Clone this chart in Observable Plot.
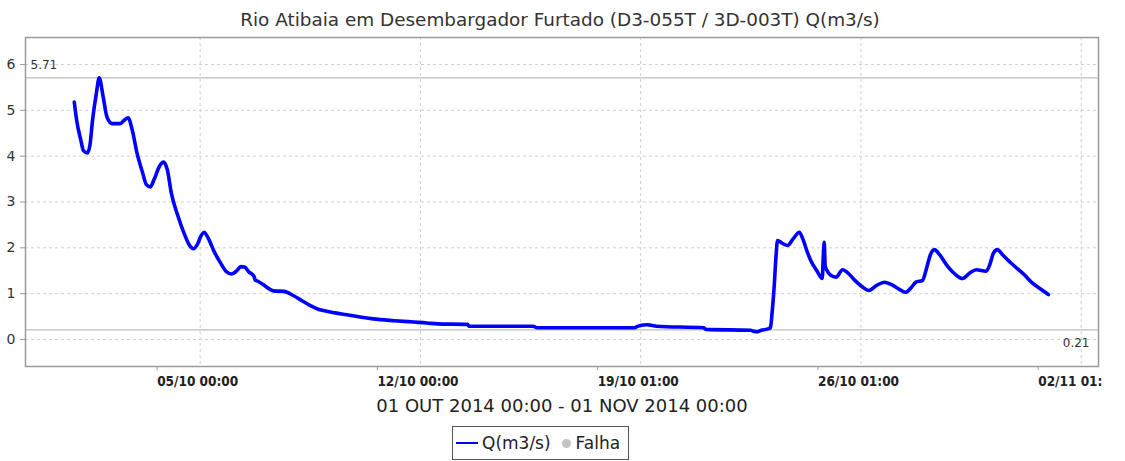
<!DOCTYPE html>
<html>
<head>
<meta charset="utf-8">
<script src="https://cdn.jsdelivr.net/npm/d3@7"></script>
<script src="https://cdn.jsdelivr.net/npm/@observablehq/plot@0.6"></script>
<style>
  body { margin: 0; background: #fff; font-family: "DejaVu Sans", sans-serif; }
  #title { height: 30px; width: 1120px; text-align: center; font-size: 18.4px; color: #333; line-height: 40px; box-sizing: border-box; white-space: nowrap; }
  #legend { position: absolute; left: 452px; top: 426px; width: 177px; height: 34px; border: 1px solid #555; box-sizing: border-box; display: flex; align-items: center; font-size: 17px; color: #222; white-space: nowrap; }
  #legend .ln { display: inline-block; width: 22px; height: 2px; background: #0000ff; margin-left: 3px; margin-right: 4px; }
  #legend .dot { display: inline-block; width: 9px; height: 9px; border-radius: 50%; background: #c4c4c4; margin-left: 11px; margin-right: 5px; }
</style>
</head>
<body>
<div id="title">Rio Atibaia em Desembargador Furtado (D3-055T / 3D-003T) Q(m3/s)</div>
<div id="chart"></div>
<div id="legend"><span class="ln"></span><span>Q(m3/s)</span><span class="dot"></span><span>Falha</span></div>
<script>
// ---- data ----
const startTime = "2014-10-01T00:00:00Z";
const hoursFromStart = [
  0, 2, 5, 7, 10, 12, 14, 17, 19, 22, 25, 29, 35, 38, 41, 44, 48, 52, 55, 58,
  61, 65, 68, 71, 74, 79, 84, 88, 91, 94, 97, 99, 102, 107, 112, 116, 120, 124, 127, 130,
  133, 137, 138, 140, 144, 149, 152, 160, 167, 174, 180, 186, 190, 199, 208, 218, 228, 244, 259, 269,
  277, 300, 301, 350, 353, 427, 431, 437, 440, 444, 480, 482, 516, 518, 521, 524, 529, 531, 532.3, 533.8,
  535.2, 536.4, 540, 544, 548.4, 553, 555.6, 559.2, 561.8, 566.4, 570.5, 571.25, 572, 572.75, 574, 577, 581, 586, 589, 595,
  601, 606, 612, 618, 623, 629, 634, 638, 642, 647, 650, 653, 656, 660, 666, 672, 677.5, 683, 688, 695.5,
  698.5, 701, 704, 708, 714, 719.5, 725, 730, 737, 743
];
const flowValues = [
  5.18, 4.75, 4.35, 4.12, 4.07, 4.25, 4.80, 5.40, 5.71, 5.30, 4.85, 4.71, 4.71, 4.78, 4.84, 4.60, 4.05, 3.65, 3.38, 3.33,
  3.50, 3.78, 3.87, 3.70, 3.20, 2.70, 2.30, 2.05, 1.98, 2.08, 2.28, 2.34, 2.22, 1.90, 1.65, 1.48, 1.43, 1.50, 1.59, 1.58,
  1.48, 1.38, 1.30, 1.27, 1.20, 1.10, 1.06, 1.05, 0.96, 0.84, 0.74, 0.66, 0.63, 0.58, 0.54, 0.49, 0.45, 0.41, 0.38, 0.36,
  0.34, 0.33, 0.29, 0.29, 0.255, 0.255, 0.30, 0.32, 0.31, 0.29, 0.255, 0.22, 0.20, 0.18, 0.17, 0.20, 0.23, 0.26, 0.60, 1.14,
  1.80, 2.16, 2.10, 2.05, 2.20, 2.34, 2.20, 1.90, 1.72, 1.50, 1.33, 1.80, 2.12, 1.60, 1.51, 1.40, 1.36, 1.52, 1.48, 1.30,
  1.15, 1.07, 1.18, 1.25, 1.20, 1.10, 1.03, 1.12, 1.25, 1.29, 1.55, 1.85, 1.96, 1.85, 1.60, 1.42, 1.33, 1.45, 1.52, 1.49,
  1.65, 1.88, 1.96, 1.85, 1.68, 1.54, 1.40, 1.25, 1.10, 0.98
];
const xTickTimes = ["2014-10-05T00:00:00Z", "2014-10-12T00:00:00Z", "2014-10-19T00:00:00Z", "2014-10-26T00:00:00Z", "2014-11-02T00:00:00Z"];
const xTickLabels = ["05/10 00:00", "12/10 00:00", "19/10 01:00", "26/10 01:00", "02/11 01:"];
const yTicks = [0, 1, 2, 3, 4, 5, 6];
const refValues = [5.71, 0.21];
const refLabels = ["5.71", "0.21"];
const xAxisLabel = "01 OUT 2014 00:00 - 01 NOV 2014 00:00";

// ---- build ----
const t0 = new Date(startTime).getTime();
const H = 3600 * 1000;
const series = hoursFromStart.map((h, i) => ({ t: new Date(t0 + h * H), q: flowValues[i] }));
const tickDates = xTickTimes.map(s => new Date(s));
const labelFor = new Map(tickDates.map((d, i) => [d.getTime(), xTickLabels[i]]));
const xDomain = [new Date(t0 - 1.55 * 24 * H), new Date(t0 + 32.55 * 24 * H)];

const chart = Plot.plot({
  width: 1125,
  height: 395,
  marginTop: 7,
  marginBottom: 59,
  marginLeft: 25,
  marginRight: 27,
  style: { fontFamily: "DejaVu Sans, sans-serif", color: "#333", background: "#fff" },
  x: { type: "utc", domain: xDomain },
  y: { domain: [-0.59, 6.59] },
  marks: [
    Plot.gridY(yTicks, { stroke: "#d0d0d0", strokeOpacity: 1, strokeDasharray: "3,3" }),
    Plot.gridX(tickDates, { stroke: "#d0d0d0", strokeOpacity: 1, strokeDasharray: "3,3" }),
    Plot.ruleY(refValues, { stroke: "#bdbdbd", strokeWidth: 1.2 }),
    Plot.text([refLabels[0]], { y: [refValues[0]], text: d => d, frameAnchor: "left", textAnchor: "start", dx: 5, dy: -13, fontSize: 12, fill: "#333" }),
    Plot.text([refLabels[1]], { y: [refValues[1]], text: d => d, frameAnchor: "right", textAnchor: "end", dx: -9, dy: 13, fontSize: 12, fill: "#333" }),
    Plot.line(series, { x: "t", y: "q", curve: "monotone-x", stroke: "#0000ff", strokeWidth: 3.6, strokeLinejoin: "round", strokeLinecap: "round" }),
    Plot.frame({ stroke: "#9a9a9a", strokeWidth: 1.5 }),
    Plot.axisY(yTicks, { tickSize: 5, tickPadding: 5, fontSize: 14, label: null, stroke: "#999", fill: "#333" }),
    Plot.axisX(tickDates, { tickSize: 4, tickPadding: 6, fontSize: 13.5, fontWeight: "bold", fontFamily: "DejaVu Sans Condensed, DejaVu Sans, sans-serif", label: null, stroke: "#999", fill: "#222",
      tickFormat: d => labelFor.get(d.getTime()), textAnchor: "start", dx: -43 }),
    Plot.text([xAxisLabel], { text: d => d, frameAnchor: "bottom", lineAnchor: "middle", dy: 40, fontSize: 18, fill: "#222" })
  ]
});
document.getElementById("chart").appendChild(chart);
</script>
</body>
</html>
